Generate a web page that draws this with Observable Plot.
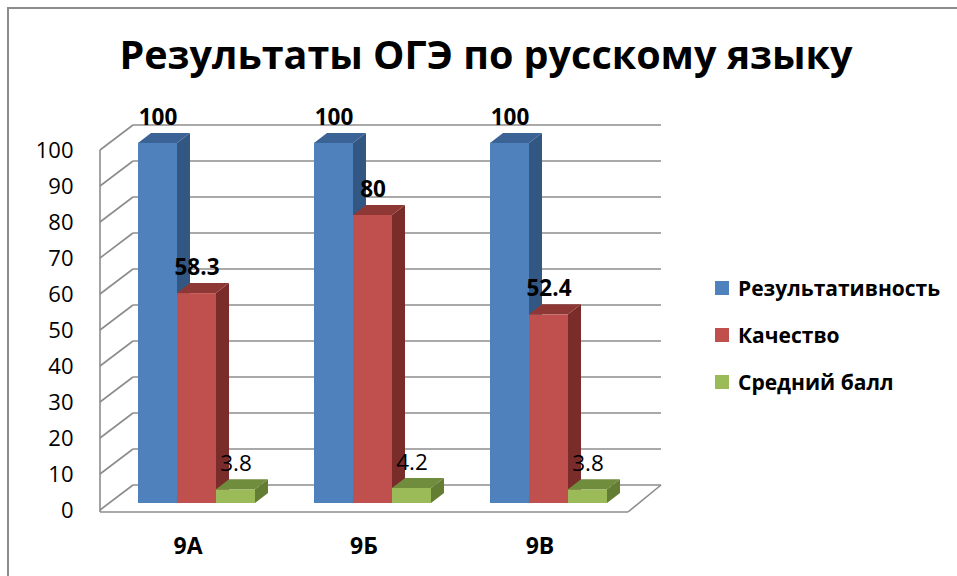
<!DOCTYPE html>
<html>
<head>
<meta charset="utf-8">
<script src="https://cdn.jsdelivr.net/npm/d3@7"></script>
<script src="https://cdn.jsdelivr.net/npm/@observablehq/plot@0.6"></script>
<style>
  html, body { margin: 0; padding: 0; background: #fff; }
  #wrap { position: relative; width: 957px; height: 576px; overflow: hidden; font-family: "Open Sans", sans-serif; color: #000; }
  #border { position: absolute; left: 7px; top: 7px; width: 1000px; height: 1000px; border-left: 2px solid #8c8c8c; border-top: 2px solid #8c8c8c; }
  #title { position: absolute; left: 0; width: 972px; top: 30px; text-align: center; font-weight: bold; font-size: 39.5px; line-height: 48px; white-space: nowrap; }
  #chart { position: absolute; left: 0; top: 0; }
  .leg { position: absolute; left: 738px; font-weight: bold; font-size: 21px; line-height: 20px; white-space: nowrap; }
  .sw { position: absolute; left: 715px; width: 14px; height: 14px; }
</style>
</head>
<body>
<div id="wrap">
  <div id="border"></div>
  <div id="title"></div>
  <div id="chart"></div>
</div>
<script>
const titleText = "Результаты ОГЭ по русскому языку";
const categories = ["9А", "9Б", "9В"];
const seriesNames = ["Результативность", "Качество", "Средний балл"];
const resultativnost = [100, 100, 100];
const kachestvo = [58.3, 80, 52.4];
const sredniyBall = [3.8, 4.2, 3.8];
const yTicks = [0, 10, 20, 30, 40, 50, 60, 70, 80, 90, 100];
const frontColors = ["#4f81bd", "#c0504d", "#9bbb59"];
const sideColors = ["#325783", "#7a2c2a", "#637d33"];
const topColors = ["#3b6396", "#8e3836", "#708c3d"];
const labelWeights = ["bold", "bold", "normal"];

const seriesValues = [resultativnost, kachestvo, sredniyBall];
const rows = seriesValues.flatMap((vals, si) =>
  vals.map((v, ci) => ({cat: categories[ci], series: seriesNames[si], si, value: v})));

// 3D geometry (pixels)
const wallDX = 33, wallDY = -25;   // depth of chart walls
const barDX = 9, barDY = -7;       // bar placement inside depth
const depthDX = 13, depthDY = -10; // bar depth
const gridColor = "#8c8c8c";

document.getElementById("title").textContent = titleText;

const svgNS = "http://www.w3.org/2000/svg";
function el(name, attrs) {
  const e = document.createElementNS(svgNS, name);
  for (const k in attrs) e.setAttribute(k, attrs[k]);
  return e;
}

// walls and grid (left wall diagonals, back wall lines, floor)
function walls(index, scales, values, dim) {
  const g = el("g", {stroke: gridColor, "stroke-width": 1.6, fill: "none"});
  const {y} = scales;
  const x0 = dim.marginLeft, x1 = dim.width - dim.marginRight;
  for (const t of yTicks) {
    const yy = y(t);
    g.appendChild(el("line", {x1: x0, y1: yy, x2: x0 + wallDX, y2: yy + wallDY}));
    g.appendChild(el("line", {x1: x0 + wallDX, y1: yy + wallDY, x2: x1 + wallDX, y2: yy + wallDY}));
  }
  const y0 = y(0);
  g.appendChild(el("line", {x1: x0, y1: y0 + 2, x2: x1, y2: y0 + 2}));
  g.appendChild(el("line", {x1: x1, y1: y0 + 2, x2: x1 + wallDX, y2: y0 + wallDY}));
  g.appendChild(el("line", {x1: x0, y1: y(100), x2: x0, y2: y0 + 2}));
  return g;
}

// side and top faces of the bars of one series
function faces(si) {
  return function(index, scales) {
    const {x, y} = scales;
    const bw = x.bandwidth();
    const w = bw / 3;
    const g = el("g", {});
    for (const r of rows.filter(d => d.si === si)) {
      const L = x(r.cat) + barDX + si * w;
      const R = L + w;
      const t = y(r.value) + barDY;
      const b = y(0) + barDY;
      g.appendChild(el("path", {
        d: `M${R},${t}L${R + depthDX},${t + depthDY}L${R + depthDX},${b + depthDY}L${R},${b}Z`,
        fill: sideColors[si]
      }));
      g.appendChild(el("path", {
        d: `M${L},${t}L${L + depthDX},${t + depthDY}L${R + depthDX},${t + depthDY}L${R},${t}Z`,
        fill: topColors[si]
      }));
    }
    return g;
  };
}

const bandPaddingInner = 0.335;
const barWidth = 117 / 3;

const marks = [walls];
seriesNames.forEach((name, si) => {
  marks.push(Plot.barY(rows.filter(d => d.si === si), {
    x: "cat", y: "value", fill: frontColors[si],
    insetLeft: si * barWidth, insetRight: (2 - si) * barWidth,
    dx: barDX, dy: barDY
  }));
  marks.push(faces(si));
});
seriesNames.forEach((name, si) => {
  marks.push(Plot.text(rows.filter(d => d.si === si), {
    x: "cat", y: "value", text: d => String(d.value),
    dx: barDX + (si - 1) * barWidth, dy: barDY - 18.5,
    lineAnchor: "bottom", fontWeight: labelWeights[si], fontSize: 22.5, fill: "#000"
  }));
});
marks.push(Plot.text(categories, {
  x: d => d, y: () => 0, dy: 43, lineAnchor: "bottom",
  fontWeight: "bold", fontSize: 23, fill: "#000"
}));

const chart = Plot.plot({
  width: 957, height: 576,
  marginLeft: 100, marginRight: 329, marginTop: 150, marginBottom: 66,
  style: {fontFamily: "Open Sans, sans-serif", fontSize: "22px", color: "#000", background: "transparent", overflow: "visible"},
  x: {type: "band", domain: categories, paddingInner: bandPaddingInner, paddingOuter: bandPaddingInner / 2, axis: null},
  y: {domain: [0, 100], ticks: yTicks, tickSize: 0, tickPadding: 27, label: null, tickFormat: d => String(d)},
  marks
});
document.getElementById("chart").appendChild(chart);

// legend
const wrap = document.getElementById("wrap");
const legBaselines = [296, 343, 390];
seriesNames.forEach((name, si) => {
  const sw = document.createElement("div");
  sw.className = "sw";
  sw.style.top = (legBaselines[si] - 15) + "px";
  sw.style.background = frontColors[si];
  wrap.appendChild(sw);
  const t = document.createElement("div");
  t.className = "leg";
  t.style.top = (legBaselines[si] - 18.3) + "px";
  t.textContent = name;
  wrap.appendChild(t);
});
</script>
</body>
</html>
